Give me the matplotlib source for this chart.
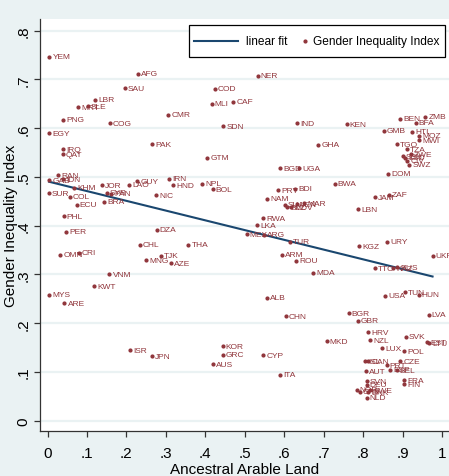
import matplotlib
matplotlib.use("Agg")
import matplotlib.pyplot as plt
from matplotlib.lines import Line2D
from matplotlib.patches import Rectangle
import numpy as np

FONT = ['Liberation Sans Narrow', 'Liberation Sans', 'DejaVu Sans']
plt.rcParams['font.family'] = FONT

countries = ["YEM","AFG","SAU","LBR","MRT","SLE","PNG","COG","CMR","EGY","IRQ","QAT","PAK","COD","MLI","SDN","GTM",
             "NER","CAF","IND","KEN","GHA","BEN","ZMB","BFA","GMB","HTI","MOZ","MWI","TGO","TZA","ZWE","SEN","LSO","CIV","SWZ","DOM",
             "RAN","GAB","IDN","KHM","SUR","COL","ECU","PHL","PER","OMN","CRI","VNM","KWT","MYS","ARE",
             "JOR","SYR","PAN","BRA","LAO","GUY","IRN","HND","NIC","NPL","BOL","DZA","CHL","THA","TJK","MNG","AZE",
             "BGD","UGA","BWA","PRY","BDI","NAM","MAR","SLV","BLZ","MDV","VEN","JAM","ZAF","LBN","RWA","LKA","MEX","ARG",
             "TUR","ARM","ROU","MDA","KGZ","URY","UKR","TTO","KAZ","RUS","USA","TUN","HUN","ALB",
             "CHN","BGR","GBR","LVA","HRV","NZL","LUX","SVK","EST","LTU","POL","MKD","KOR","GRC","AUS","ISR","JPN","CYP","ITA",
             "CZE","ISL","CAN","PRT","ESP","AUT","BEL","FRA","FIN","SVN","DEU","NOR","CHE","DNK","SWE","NLD"]

arable_land = [0.005,0.229,0.196,0.120,0.077,0.102,0.039,0.158,0.306,0.005,0.039,0.039,0.266,0.424,0.416,0.446,0.405,
               0.533,0.471,0.632,0.758,0.686,0.894,0.958,0.933,0.852,0.925,0.942,0.942,0.885,0.911,0.921,0.900,0.906,0.912,0.917,0.864,
               0.027,0.004,0.040,0.068,0.004,0.056,0.074,0.041,0.048,0.032,0.079,0.157,0.119,0.005,0.043,
               0.139,0.150,0.162,0.144,0.207,0.228,0.308,0.319,0.275,0.392,0.419,0.277,0.234,0.357,0.288,0.250,0.314,
               0.589,0.638,0.728,0.585,0.628,0.557,0.651,0.602,0.607,0.617,0.632,0.830,0.866,0.787,0.547,0.531,0.505,0.549,
               0.615,0.594,0.630,0.674,0.790,0.861,0.976,0.830,0.876,0.886,0.856,0.906,0.941,0.556,
               0.604,0.763,0.787,0.966,0.812,0.818,0.849,0.908,0.962,0.968,0.904,0.708,0.444,0.444,0.420,0.209,0.265,0.547,0.590,
               0.894,0.805,0.813,0.860,0.868,0.807,0.885,0.904,0.904,0.809,0.809,0.784,0.792,0.813,0.818,0.809]

gender_inequality = [0.747,0.712,0.682,0.658,0.643,0.645,0.617,0.610,0.628,0.590,0.557,0.547,0.567,0.681,0.650,0.604,0.539,
                     0.708,0.654,0.610,0.608,0.566,0.619,0.623,0.611,0.595,0.593,0.585,0.575,0.567,0.557,0.547,0.542,0.539,0.533,0.525,0.507,
                     0.504,0.493,0.495,0.478,0.467,0.459,0.443,0.419,0.388,0.340,0.345,0.300,0.276,0.258,0.241,
                     0.483,0.468,0.466,0.449,0.484,0.491,0.496,0.483,0.462,0.486,0.475,0.392,0.361,0.361,0.338,0.329,0.323,
                     0.518,0.518,0.486,0.473,0.476,0.455,0.446,0.443,0.438,0.438,0.444,0.458,0.463,0.434,0.415,0.401,0.382,0.381,
                     0.367,0.340,0.328,0.304,0.358,0.367,0.338,0.313,0.313,0.315,0.256,0.263,0.258,0.252,
                     0.214,0.220,0.205,0.217,0.181,0.165,0.149,0.172,0.161,0.159,0.142,0.163,0.153,0.135,0.116,0.145,0.132,0.134,0.094,
                     0.122,0.122,0.122,0.114,0.105,0.101,0.103,0.083,0.075,0.081,0.074,0.063,0.059,0.058,0.062,0.047]

fit_intercept = 0.491
fit_slope = -0.200

x_ticks = [0, .1, .2, .3, .4, .5, .6, .7, .8, .9, 1]
x_tick_labels = ["0", ".1", ".2", ".3", ".4", ".5", ".6", ".7", ".8", ".9", "1"]
y_ticks = [0, .1, .2, .3, .4, .5, .6, .7, .8]
y_tick_labels = ["0", ".1", ".2", ".3", ".4", ".5", ".6", ".7", ".8"]
legend_labels = ["linear fit", "Gender Inequality Index"]

BG = "#eaf2f3"
MAROON = "#90353b"
NAVY = "#1a476f"

W, H = 449, 477
fig = plt.figure(figsize=(W / 100, H / 100), dpi=100, facecolor=BG)
left_px, right_px, top_px, bottom_px = 40.4, 449, 20, 432
ax = fig.add_axes([left_px / W, 1 - bottom_px / H, (right_px - left_px) / W, (bottom_px - top_px) / H])
ax.set_facecolor("white")
ax.set_xlim(-0.018, 1.0177)
ax.set_ylim(-0.0211, 0.824)

for yt in y_ticks:
    ax.axhline(yt, color=BG, lw=1.6, zorder=0)

xs = np.array(arable_land)
ys = np.array(gender_inequality)
xline = np.array([xs.min(), xs.max()])
ax.plot(xline, fit_intercept + fit_slope * xline, color=NAVY, lw=1.5, zorder=3)
ax.plot(xs, ys, linestyle="none", marker="o", markersize=2.0, color=MAROON, zorder=4)
for c, x, y in zip(countries, arable_land, gender_inequality):
    ax.annotate(c, (x, y), xytext=(2.2, 0), textcoords="offset points", ha="left", va="center",
                fontsize=6.0, color=MAROON, zorder=5)

for side in ["top", "right"]:
    ax.spines[side].set_visible(False)
for side in ["left", "bottom"]:
    ax.spines[side].set_color("#333333")
    ax.spines[side].set_linewidth(0.9)

ax.set_xticks(x_ticks)
ax.set_xticklabels(x_tick_labels, fontsize=11)
ax.set_yticks(y_ticks)
ax.set_yticklabels(y_tick_labels, fontsize=11, rotation=90, va="center")
ax.tick_params(axis="both", direction="out", length=4, width=0.9, color="#333333")
ax.tick_params(axis="x", pad=7)
ax.tick_params(axis="y", pad=3)

ax.set_xlabel("Ancestral Arable Land", fontsize=11)
ax.set_ylabel("Gender Inequality Index", fontsize=11)
ax.xaxis.set_label_coords(0.5, -0.075)
ax.yaxis.set_label_coords(-0.056, 0.5)


def fx(px):
    return px / W


def fy(py):
    return 1 - py / H


# legend drawn in figure pixel positions
fig.add_artist(Rectangle((fx(189), fy(58)), fx(445) - fx(189), fy(26) - fy(58),
                         transform=fig.transFigure, facecolor="white", edgecolor="black", lw=0.9, zorder=10))
fig.add_artist(Line2D([fx(194), fx(238)], [fy(42), fy(42)], transform=fig.transFigure,
                      color=NAVY, lw=1.5, zorder=11))
fig.add_artist(Line2D([fx(305)], [fy(42)], transform=fig.transFigure, linestyle="none",
                      marker="o", markersize=2.0, color=MAROON, zorder=11))
fig.text(fx(246), fy(42), legend_labels[0], fontsize=8.6, va="center", ha="left", zorder=12)
fig.text(fx(313), fy(42), legend_labels[1], fontsize=8.6, va="center", ha="left", zorder=12)

fig.savefig("out.png", dpi=100, facecolor=BG)
